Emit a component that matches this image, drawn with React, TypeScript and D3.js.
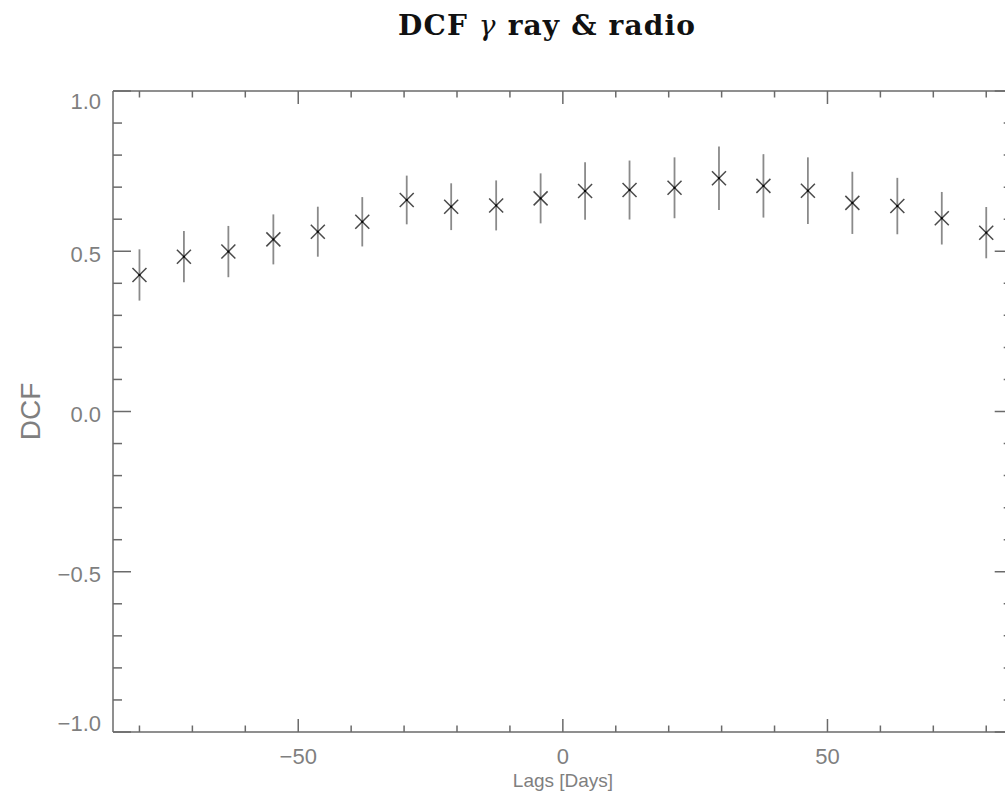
import React from "react";
import * as d3 from "d3";

const lags = [-80, -71.6, -63.2, -54.7, -46.3, -37.9, -29.5, -21.1, -12.6, -4.2, 4.2, 12.6, 21.1, 29.5, 37.9, 46.3, 54.7, 63.2, 71.6, 80];
const dcf = [0.426, 0.483, 0.499, 0.537, 0.561, 0.592, 0.660, 0.639, 0.643, 0.665, 0.688, 0.691, 0.698, 0.728, 0.704, 0.689, 0.651, 0.641, 0.603, 0.558];
const errs = [0.080, 0.080, 0.080, 0.078, 0.078, 0.077, 0.076, 0.073, 0.078, 0.078, 0.090, 0.092, 0.095, 0.099, 0.099, 0.104, 0.097, 0.088, 0.082, 0.080];

const xMajor = [-50, 0, 50];
const xMinor = [-80, -70, -60, -40, -30, -20, -10, 10, 20, 30, 40, 60, 70, 80];
const yMajor = [-1.0, -0.5, 0.0, 0.5, 1.0];
const yMinor = [-0.9, -0.8, -0.7, -0.6, -0.4, -0.3, -0.2, -0.1, 0.1, 0.2, 0.3, 0.4, 0.6, 0.7, 0.8, 0.9];

const W = 1005, H = 806;
const L = 113, R = 1012.7, T = 91, B = 732;
const AX = "#6a6a6a";
const TXT = "#7f7f7f";

const fmtY = (v: number) => (v < 0 ? "\u2212" : "") + Math.abs(v).toFixed(1);
const fmtX = (v: number) => (v < 0 ? "\u2212" : "") + Math.abs(v).toString();

export default function App() {
  const x = d3.scaleLinear().domain([-85, 85]).range([L, R]);
  const y = d3.scaleLinear().domain([-1, 1]).range([B, T]);
  const xt = 13, yt = 18;
  const ms = 7;
  return (
    <svg width={W} height={H} style={{ position: "absolute", left: 0, top: 0, background: "#fff" }}>
      <text x={398} y={35} fontFamily="'DejaVu Serif', serif" fontWeight="bold" fontSize={28} fill="#111" textLength={297} lengthAdjust="spacing">
        DCF <tspan fontStyle="italic" fontWeight="normal">γ</tspan> ray &amp; radio
      </text>
      <g stroke={AX} strokeWidth={1.5} fill="none">
        <line x1={L} y1={B} x2={R} y2={B} />
        <line x1={L} y1={T} x2={R} y2={T} />
        <line x1={L} y1={T} x2={L} y2={B} />
        <line x1={R} y1={T} x2={R} y2={B} />
        {xMajor.map((v) => (
          <g key={"xM" + v}>
            <line x1={x(v)} x2={x(v)} y1={B} y2={B - xt} />
            <line x1={x(v)} x2={x(v)} y1={T} y2={T + xt} />
          </g>
        ))}
        {xMinor.map((v) => (
          <g key={"xm" + v}>
            <line x1={x(v)} x2={x(v)} y1={B} y2={B - xt / 2} />
            <line x1={x(v)} x2={x(v)} y1={T} y2={T + xt / 2} />
          </g>
        ))}
        {yMajor.map((v) => (
          <g key={"yM" + v}>
            <line x1={L} x2={L + yt} y1={y(v)} y2={y(v)} />
            <line x1={R} x2={R - yt} y1={y(v)} y2={y(v)} />
          </g>
        ))}
        {yMinor.map((v) => (
          <g key={"ym" + v}>
            <line x1={L} x2={L + yt / 2} y1={y(v)} y2={y(v)} />
            <line x1={R} x2={R - yt / 2} y1={y(v)} y2={y(v)} />
          </g>
        ))}
      </g>
      <g fontFamily="'Liberation Sans', Arial, sans-serif" fontSize={22} fill={TXT}>
        {xMajor.map((v) => (
          <text key={"xl" + v} x={x(v)} y={764} textAnchor="middle">{fmtX(v)}</text>
        ))}
        {yMajor.map((v) => {
          const c = Math.min(Math.max(y(v) + 2.5, T + 9.5), B - 9);
          return (
            <text key={"yl" + v} x={101} y={c + 8} textAnchor="end">{fmtY(v)}</text>
          );
        })}
      </g>
      <text x={563} y={787} textAnchor="middle" fontFamily="'Liberation Sans', Arial, sans-serif" fontSize={19} fill={TXT}>Lags [Days]</text>
      <text transform={`translate(40,${y(0)}) rotate(-90)`} textAnchor="middle" fontFamily="'Liberation Sans', Arial, sans-serif" fontSize={28} fill={TXT}>DCF</text>
      <g stroke="#8a8a8a" strokeWidth={1.8}>
        {lags.map((l, i) => (
          <line key={"e" + i} x1={x(l)} x2={x(l)} y1={y(dcf[i] + errs[i])} y2={y(dcf[i] - errs[i])} />
        ))}
      </g>
      <g stroke="#4a4a4a" strokeWidth={1.5}>
        {lags.map((l, i) => (
          <g key={"m" + i}>
            <line x1={x(l) - ms} y1={y(dcf[i]) - ms} x2={x(l) + ms} y2={y(dcf[i]) + ms} />
            <line x1={x(l) - ms} y1={y(dcf[i]) + ms} x2={x(l) + ms} y2={y(dcf[i]) - ms} />
          </g>
        ))}
      </g>
      <g fill="#000">
        {lags.map((l, i) => (
          <rect key={"c" + i} x={x(l) - 1} y={y(dcf[i]) - 1} width={2} height={2} />
        ))}
      </g>
    </svg>
  );
}
